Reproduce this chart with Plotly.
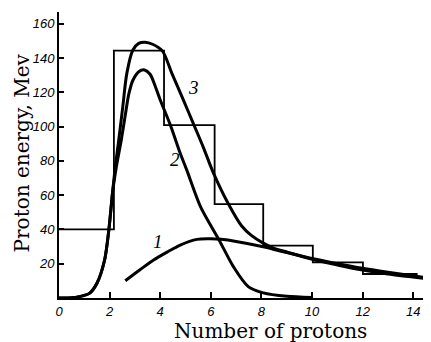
import plotly.graph_objects as go

# Histogram (step) data
hist_edges = [0, 2.17, 4.15, 6.15, 8.07, 10.03, 12.01, 14.17]
hist_values = [40, 144.3, 100.8, 54.8, 30.5, 20.8, 14]

# Curve 1
c1_x = [2.62, 3.2, 3.74, 4.3, 4.79, 5.45, 6.0, 6.4, 7.0, 8.07, 9.0, 10.0, 11.0, 12.0, 13.0, 14.5]
c1_y = [10.1, 16.5, 22.2, 27.0, 30.9, 34.2, 34.5, 34.2, 33.0, 29.9, 26.5, 23.0, 20.0, 17.3, 15.0, 11.8]

# Curve 2
c2_x = [0, 0.5, 0.8, 1.2, 1.5, 1.8, 1.97, 2.12, 2.26, 2.46, 2.63, 2.76, 2.92, 3.15, 3.38, 3.6,
        3.81, 4.0, 4.4, 4.79, 5.05, 5.6, 6.32, 6.89, 7.48, 8.07, 9.0, 10.0]
c2_y = [0, 0.1, 0.8, 2.7, 8.6, 22, 39.7, 62, 76, 92, 107.7, 119, 127, 132, 133, 130.5,
        123.2, 115.5, 100.9, 84.4, 74.6, 53, 34, 18.3, 6.6, 3, 1, 0.3]

# Curve 3
c3_x = [0, 0.5, 0.8, 1.2, 1.5, 1.8, 1.97, 2.12, 2.22, 2.36, 2.52, 2.68, 2.92, 3.15, 3.4, 3.7,
        4.09, 4.46, 4.9, 5.33, 5.7, 6.1, 6.69, 7.22, 7.6, 8.07, 8.5, 9.0, 10.0, 11.0,
        12.0, 13.0, 14.44]
c3_y = [0, 0.1, 0.8, 2.7, 8.6, 22, 39.7, 62, 76, 92, 111.5, 131, 144.6, 148.5, 149.2, 148,
        144, 131, 116, 101, 88, 73, 55, 42, 36.5, 32, 29, 26.8, 22.6, 19.3,
        16.3, 14, 11.5]

curve_labels = ["1", "2", "3"]
label_x = [3.9, 4.59, 5.32]
label_y = [33, 80.5, 123]

x_ticks = [0, 2, 4, 6, 8, 10, 12, 14]
y_ticks = [20, 40, 60, 80, 100, 120, 140, 160]

x_title = "Number of protons"
y_title = "Proton energy, Mev"

fig = go.Figure()

fig.add_trace(go.Scatter(
    x=hist_edges, y=hist_values + [hist_values[-1]],
    mode="lines", line=dict(shape="hv", color="black", width=1.8),
    showlegend=False, hoverinfo="skip"))

for cx, cy in [(c1_x, c1_y), (c2_x, c2_y), (c3_x, c3_y)]:
    fig.add_trace(go.Scatter(
        x=cx, y=cy, mode="lines",
        line=dict(shape="spline", smoothing=0.8, color="black", width=3),
        showlegend=False, hoverinfo="skip"))

for t, lx, ly in zip(curve_labels, label_x, label_y):
    fig.add_annotation(x=lx, y=ly, text=t, showarrow=False,
                       font=dict(family="Liberation Serif", size=19, color="black", style="italic"))

fig.add_annotation(xref="paper", yref="paper", x=0.5685, y=-0.115, text=x_title,
                   showarrow=False, xanchor="center", yanchor="middle",
                   font=dict(family="DejaVu Serif", size=20, color="black"))
fig.add_annotation(xref="paper", yref="paper", x=-0.0995, y=0.509, text=y_title,
                   showarrow=False, xanchor="center", yanchor="middle", textangle=-90,
                   font=dict(family="DejaVu Serif", size=20, color="black"))

tick_font = dict(family="Liberation Sans", size=13, color="black", style="italic")

fig.update_xaxes(range=[0, 14.7], tickvals=x_ticks, ticktext=[str(v) for v in x_ticks],
                 ticks="inside", ticklen=6, tickwidth=1.5, tickcolor="black",
                 showline=True, linecolor="black", linewidth=2, showgrid=False,
                 zeroline=False, tickfont=tick_font)
fig.update_yaxes(range=[0, 166.8], tickvals=y_ticks, ticktext=[str(v) for v in y_ticks],
                 ticks="inside", ticklen=5, tickwidth=1.5, tickcolor="black",
                 showline=True, linecolor="black", linewidth=2, showgrid=False,
                 zeroline=False, tickfont=tick_font)

# page body has an 8px margin, so the figure is sized/offset to fit the 431x342 window
fig.update_layout(width=423, height=334, margin=dict(l=51, r=0, t=4, b=44),
                  plot_bgcolor="white", paper_bgcolor="white")

fig.write_html("out.html")
